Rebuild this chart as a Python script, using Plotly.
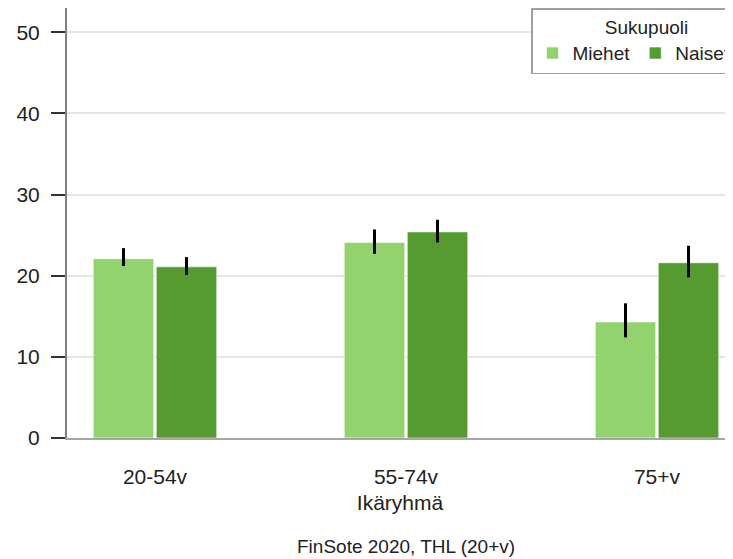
import plotly.graph_objects as go

categories = ["20-54v", "55-74v", "75+v"]
miehet = [22.1, 24.1, 14.3]
miehet_hi = [23.4, 25.7, 16.6]
miehet_lo = [21.2, 22.7, 12.4]
naiset = [21.1, 25.4, 21.6]
naiset_hi = [22.3, 26.9, 23.7]
naiset_lo = [20.1, 24.1, 19.8]

FONT = "Liberation Sans, Arial, sans-serif"
C_LIGHT = "#92d36e"
C_DARK = "#559b2f"

# page body has an 8px margin; figure sized so the plot lands where the reference has it
W, H = 733, 551
L, R, T, B = 59, 8, 0, 121
PW, PH = W - L - R, H - T - B


def err(vals, hi, lo):
    return dict(type="data", symmetric=False,
                array=[h - v for h, v in zip(hi, vals)],
                arrayminus=[v - l for v, l in zip(vals, lo)],
                color="black", thickness=3, width=0)


fig = go.Figure()
fig.add_trace(go.Bar(name="Miehet", x=categories, y=miehet,
                     marker=dict(color=C_LIGHT, line=dict(color="rgba(255,255,255,0.6)", width=1)),
                     error_y=err(miehet, miehet_hi, miehet_lo)))
fig.add_trace(go.Bar(name="Naiset", x=categories, y=naiset, legendwidth=80,
                     marker=dict(color=C_DARK, line=dict(color="rgba(255,255,255,0.6)", width=1)),
                     error_y=err(naiset, naiset_hi, naiset_lo)))

fig.update_layout(
    width=W, height=H,
    margin=dict(l=L, r=R, t=T, b=B, autoexpand=False),
    paper_bgcolor="white", plot_bgcolor="white",
    font=dict(family=FONT, size=20, color="#222222"),
    barmode="group", bargap=0.498, bargroupgap=0.04,
    showlegend=True,
    legend=dict(
        title=dict(text="Sukupuoli", side="top center", font=dict(size=19)),
        orientation="h", x=(531 - 67) / PW, y=1, xanchor="left", yanchor="top",
        bordercolor="#a0a0a0", borderwidth=1.5, bgcolor="white",
        font=dict(size=19), traceorder="normal", itemwidth=30,
    ),
    xaxis=dict(
        range=[-0.3506, 2.3028],
        showline=True, mirror=True, linecolor="#a6a6a6", linewidth=2,
        ticks="outside", ticklen=19, tickcolor="rgba(0,0,0,0)",
        tickfont=dict(size=21),
        title=dict(text="Ikäryhmä", font=dict(size=21), standoff=8),
        showgrid=False, zeroline=False,
    ),
    yaxis=dict(
        range=[0, 53],
        tickvals=[0, 10, 20, 30, 40, 50],
        showline=True, linecolor="#808080", linewidth=2,
        ticks="outside", ticklen=14, tickcolor="#333333", tickwidth=2,
        ticklabelstandoff=7,
        tickfont=dict(size=21),
        showgrid=True, gridcolor="#e6e6e6", gridwidth=1.5,
        zeroline=False,
    ),
    annotations=[dict(
        text="FinSote 2020, THL (20+v)", xref="paper", yref="paper",
        x=(406 - 67) / PW, y=-(546 - 438) / PH, xanchor="center", yanchor="middle",
        showarrow=False, font=dict(size=19, family=FONT, color="#222222"),
    )],
)

fig.write_html("out.html")
